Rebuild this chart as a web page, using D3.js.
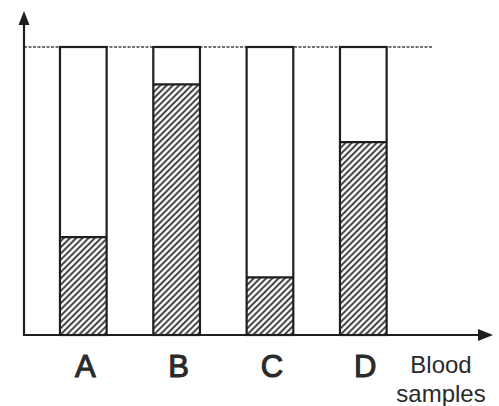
<!DOCTYPE html>
<html>
<head>
<meta charset="utf-8">
<script src="https://cdnjs.cloudflare.com/ajax/libs/d3/7.8.5/d3.min.js"></script>
<style>
  body { margin: 0; background: #fff; }
  svg { display: block; }
</style>
</head>
<body>
<svg id="chart" viewBox="0 0 499 406" width="499" height="406"></svg>
<script>
// blood samples and the hatched share of each bar (% of full height)
const samples = ["A", "B", "C", "D"]
const hatched = [34, 87, 20, 67]
const fullLevel = 100
const xTitle = ["Blood", "samples"]

const svg = d3.select("#chart")
const width = parseInt(svg.attr("viewBox").split(' ')[2])
const height = parseInt(svg.attr("viewBox").split(' ')[3])
const ink = "#1e1e1e"

const axisX = 24, baseY = 335

const x = d3.scaleBand()
    .domain(samples)
    .range([13.3, 433.3])
    .paddingInner(0.5)
    .paddingOuter(0.5)

const y = d3.scaleLinear()
    .domain([0, fullLevel])
    .range([baseY, 47])

// hatch pattern "/"
const hatchStep = 4.4
const defs = svg.append("defs")
defs.append("pattern")
    .attr("id", "hatch")
    .attr("patternUnits", "userSpaceOnUse")
    .attr("width", hatchStep)
    .attr("height", hatchStep)
    .attr("patternTransform", "rotate(45)")
    .append("line")
    .attr("x1", hatchStep / 2).attr("y1", 0)
    .attr("x2", hatchStep / 2).attr("y2", hatchStep)
    .attr("stroke", ink)
    .attr("stroke-width", 1.7)

svg.append("rect")
    .attr("width", width).attr("height", height)
    .attr("fill", "#fff")

// dashed reference line at full level
svg.append("line")
    .attr("x1", axisX).attr("x2", x.range()[1])
    .attr("y1", y(fullLevel)).attr("y2", y(fullLevel))
    .attr("stroke", "#444")
    .attr("stroke-width", 1.3)
    .attr("stroke-dasharray", "3,1.5")

const bars = svg.append("g")
    .selectAll("g")
    .data(samples)
    .enter()
    .append("g")

// hatched part
bars.append("rect")
    .attr("x", d => x(d))
    .attr("y", (d, i) => y(hatched[i]))
    .attr("width", x.bandwidth())
    .attr("height", (d, i) => y(0) - y(hatched[i]))
    .attr("fill", "url(#hatch)")

// outline of the whole bar
bars.append("rect")
    .attr("x", d => x(d))
    .attr("y", y(fullLevel))
    .attr("width", x.bandwidth())
    .attr("height", y(0) - y(fullLevel))
    .attr("fill", "none")
    .attr("stroke", ink)
    .attr("stroke-width", 2.2)

// divider between clear and hatched parts
bars.append("line")
    .attr("x1", d => x(d))
    .attr("x2", d => x(d) + x.bandwidth())
    .attr("y1", (d, i) => y(hatched[i]))
    .attr("y2", (d, i) => y(hatched[i]))
    .attr("stroke", ink)
    .attr("stroke-width", 2.2)

// axes with arrow heads
svg.append("line")
    .attr("x1", axisX).attr("y1", baseY + 1)
    .attr("x2", axisX).attr("y2", 22)
    .attr("stroke", ink).attr("stroke-width", 2.2)
svg.append("path")
    .attr("d", `M${axisX},11 L${axisX - 5.5},25 L${axisX + 5.5},25 Z`)
    .attr("fill", ink)

svg.append("line")
    .attr("x1", axisX - 1).attr("y1", baseY)
    .attr("x2", 480).attr("y2", baseY)
    .attr("stroke", ink).attr("stroke-width", 2.2)
svg.append("path")
    .attr("d", `M493,${baseY} L478,${baseY - 6} L478,${baseY + 6} Z`)
    .attr("fill", ink)

// category labels
svg.append("g")
    .selectAll("text")
    .data(samples)
    .enter()
    .append("text")
    .attr("x", d => x(d) + x.bandwidth() / 2 + 2)
    .attr("y", 377)
    .attr("text-anchor", "middle")
    .attr("font-family", "'Liberation Sans', Arial, sans-serif")
    .attr("font-size", 31)
    .attr("fill", "#2a2a2a")
    .attr("stroke", "#2a2a2a")
    .attr("stroke-width", 1.1)
    .text(d => d)

// axis title
svg.append("g")
    .selectAll("text")
    .data(xTitle)
    .enter()
    .append("text")
    .attr("x", 441)
    .attr("y", (d, i) => 373 + i * 29)
    .attr("text-anchor", "middle")
    .attr("font-family", "'Liberation Sans', Arial, sans-serif")
    .attr("font-size", 24)
    .attr("fill", "#2a2a2a")
    .text(d => d)
</script>
</body>
</html>
